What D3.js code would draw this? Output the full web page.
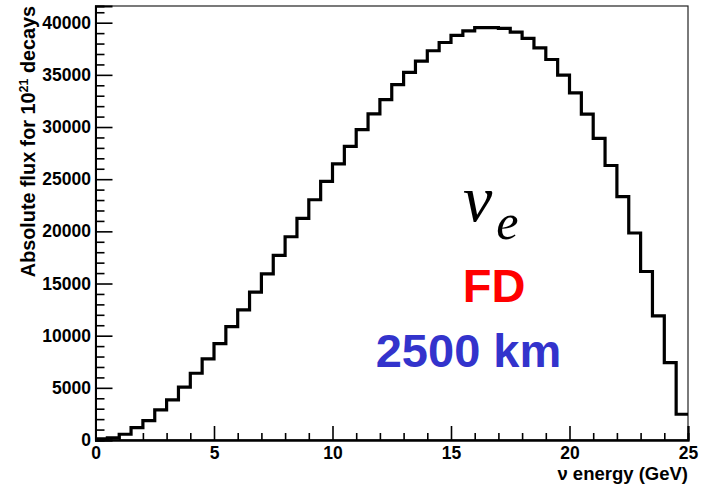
<!DOCTYPE html>
<html>
<head>
<meta charset="utf-8">
<script src="https://cdn.jsdelivr.net/npm/d3@7"></script>
<style>
  html, body { margin: 0; padding: 0; background: #fff; }
  svg { display: block; }
  .tick text { font-family: "Liberation Sans", Arial, sans-serif; font-weight: bold; }
</style>
</head>
<body>
<svg id="chart" width="702" height="487"></svg>
<script>
// Electron-neutrino flux at the far detector, 0.5 GeV bins from 0 to 25 GeV
const binWidth = 0.5;
const binLowEdges = d3.range(0, 25, binWidth);
const flux = [
  100, 200, 550, 1180, 1850, 2880, 3840, 5060, 6400, 7770,
  9240, 10870, 12480, 14170, 15930, 17690, 19480, 21240, 23030, 24790,
  26460, 28150, 29750, 31260, 32630, 34070, 35240, 36310, 37310, 38100,
  38780, 39220, 39530, 39520, 39450, 39100, 38500, 37590, 36470, 34980,
  33270, 31240, 28920, 26310, 23320, 19840, 16150, 11900, 7420, 2470
];

const xMajorTicks = [0, 5, 10, 15, 20, 25];
const xMinorTicks = d3.range(0, 26, 1).filter(v => v % 5 !== 0);
const yMajorTicks = [0, 5000, 10000, 15000, 20000, 25000, 30000, 35000, 40000];
const yMinorTicks = d3.range(0, 41001, 1000).filter(v => v % 5000 !== 0);

const xDomain = [0, 25];
const yDomain = [0, 41600];

const svg = d3.select("#chart");
const plotL = 95.5, plotR = 688, plotT = 6, plotB = 440;

const x = d3.scaleLinear().domain(xDomain).range([plotL, plotR]);
const y = d3.scaleLinear().domain(yDomain).range([plotB, plotT]);

// frame
svg.append("rect")
  .attr("x", plotL).attr("y", plotT)
  .attr("width", plotR - plotL).attr("height", plotB - plotT)
  .attr("fill", "none").attr("stroke", "#222").attr("stroke-width", 1.2);

// histogram outline
const pts = binLowEdges.map((e, i) => [e, flux[i]]);
pts.push([25, flux[flux.length - 1]]);
svg.append("defs").append("clipPath").attr("id", "plotclip")
  .append("rect").attr("x", plotL).attr("y", plotT)
  .attr("width", plotR - plotL).attr("height", plotB - plotT);
svg.append("path")
  .datum(pts)
  .attr("clip-path", "url(#plotclip)")
  .attr("fill", "none")
  .attr("stroke", "#000")
  .attr("stroke-width", 3.2)
  .attr("stroke-linejoin", "miter")
  .attr("d", d3.line().x(d => x(d[0])).y(d => y(d[1])).curve(d3.curveStepAfter));

// x axis: major + minor ticks pointing inward
const xAxisG = svg.append("g").attr("transform", `translate(0,${plotB})`);
xAxisG.call(d3.axisBottom(x).tickValues(xMajorTicks).tickSize(-14).tickPadding(7)
  .tickFormat(d3.format("d")));
xAxisG.append("g").call(d3.axisBottom(x).tickValues(xMinorTicks).tickSize(-7).tickFormat(""));
xAxisG.selectAll(".domain").attr("stroke-width", 2);
xAxisG.selectAll(".tick line").attr("stroke-width", 1.6);
xAxisG.selectAll(".tick text").attr("font-size", 17.5).attr("fill", "#000");

// y axis
const yAxisG = svg.append("g").attr("transform", `translate(${plotL},0)`);
yAxisG.call(d3.axisLeft(y).tickValues(yMajorTicks).tickSize(-17).tickPadding(4.5)
  .tickFormat(d3.format("d")));
yAxisG.append("g").call(d3.axisLeft(y).tickValues(yMinorTicks).tickSize(-9).tickFormat(""));
yAxisG.selectAll(".domain").attr("stroke-width", 2);
yAxisG.selectAll(".tick line").attr("stroke-width", 1.6);
yAxisG.selectAll(".tick text").attr("font-size", 17.5).attr("fill", "#000");

// axis titles
svg.append("text")
  .attr("x", plotR).attr("y", 480)
  .attr("text-anchor", "end")
  .attr("font-family", "Liberation Sans, Arial, sans-serif")
  .attr("font-weight", "bold")
  .attr("font-size", 18.5)
  .text("\u03bd energy (GeV)");

const yTitle = svg.append("text")
  .attr("transform", "translate(35,6) rotate(-90)")
  .attr("text-anchor", "end")
  .attr("font-family", "Liberation Sans, Arial, sans-serif")
  .attr("font-weight", "bold")
  .attr("font-size", 19.8);
yTitle.append("tspan").text("Absolute flux for 10");
yTitle.append("tspan").attr("dy", -7).attr("font-size", 12.5).text("21");
yTitle.append("tspan").attr("dy", 7).text(" decays");

// annotations
const nu = svg.append("text")
  .attr("x", 463).attr("y", 221)
  .attr("font-family", "Liberation Serif, Times New Roman, serif")
  .attr("font-style", "italic");
nu.append("tspan").attr("font-size", 66).text("\u03bd");
nu.append("tspan").attr("font-size", 50).attr("dx", 4).attr("dy", 18).text("e");

svg.append("text")
  .attr("x", 494).attr("y", 302)
  .attr("text-anchor", "middle")
  .attr("font-family", "Liberation Sans, Arial, sans-serif")
  .attr("font-weight", "bold")
  .attr("font-size", 47)
  .attr("fill", "#ff0000")
  .text("FD");

svg.append("text")
  .attr("x", 468.5).attr("y", 367)
  .attr("text-anchor", "middle")
  .attr("font-family", "Liberation Sans, Arial, sans-serif")
  .attr("font-weight", "bold")
  .attr("font-size", 47)
  .attr("fill", "#3333cc")
  .text("2500 km");
</script>
</body>
</html>
